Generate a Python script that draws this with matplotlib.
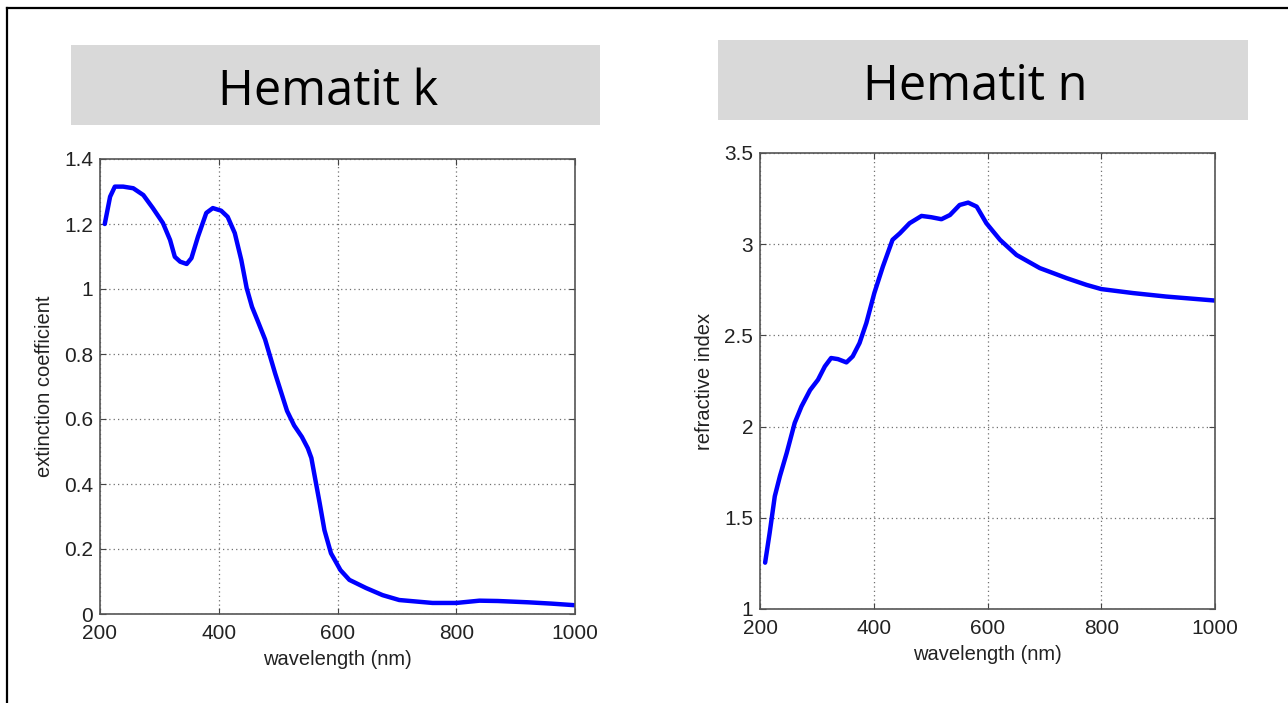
import matplotlib
matplotlib.use("Agg")
import matplotlib.pyplot as plt
from matplotlib.patches import Rectangle
from matplotlib.lines import Line2D

# Extinction coefficient k of hematite
k_wavelength = [208, 217, 225, 239, 256, 273, 289, 306, 318, 326, 335, 346, 354,
                365, 379, 390, 404, 415, 427, 438, 447, 456, 466, 478, 495, 515,
                527, 540, 550, 556, 561, 570, 578, 589, 605, 620, 648, 676, 704,
                760, 800, 839, 870, 921, 960, 1000]
k_values = [1.20, 1.284, 1.315, 1.315, 1.31, 1.289, 1.249, 1.203, 1.151, 1.099,
            1.084, 1.077, 1.095, 1.161, 1.234, 1.249, 1.241, 1.222, 1.172, 1.089,
            1.003, 0.945, 0.90, 0.845, 0.74, 0.625, 0.58, 0.545, 0.51, 0.48,
            0.43, 0.341, 0.258, 0.187, 0.135, 0.105, 0.08, 0.058, 0.043, 0.034,
            0.034, 0.041, 0.04, 0.036, 0.032, 0.027]

# Refractive index n of hematite
n_wavelength = [209, 217, 226, 235, 247, 261, 273, 288, 302, 314, 325, 337, 352,
                363, 375, 387, 401, 416, 433, 446, 463, 484, 501, 519, 534, 551,
                566, 581, 598, 622, 651, 692, 739, 774, 800, 856, 914, 1000]
n_values = [1.254, 1.418, 1.618, 1.728, 1.856, 2.02, 2.111, 2.20, 2.257, 2.33,
            2.376, 2.37, 2.352, 2.385, 2.458, 2.568, 2.732, 2.877, 3.024, 3.06,
            3.115, 3.155, 3.148, 3.137, 3.16, 3.215, 3.228, 3.206, 3.115, 3.024,
            2.941, 2.869, 2.814, 2.777, 2.754, 2.732, 2.713, 2.691]

W, H = 1288, 703
fig = plt.figure(figsize=(W / 100, H / 100), dpi=100)
plt.rcParams['font.family'] = ['Liberation Sans', 'DejaVu Sans']

# slide frame
fig.add_artist(Line2D([7 / W, 7 / W], [0, 1 - 8 / H], color='black', lw=1.6))
fig.add_artist(Line2D([7 / W, 1], [1 - 8 / H, 1 - 8 / H], color='black', lw=1.6))


def header(x0, y0, x1, y1, text, tx, ty):
    fig.add_artist(Rectangle((x0 / W, 1 - y1 / H), (x1 - x0) / W, (y1 - y0) / H,
                             transform=fig.transFigure, facecolor='#d9d9d9',
                             edgecolor='none'))
    fig.text(tx / W, 1 - ty / H, text, ha='center', va='center', fontsize=35,
             family=['Open Sans', 'DejaVu Sans'])


def panel(rect, x, y, ylim, yticks, ylabel):
    left, top, right, bottom = rect
    ax = fig.add_axes([left / W, 1 - bottom / H, (right - left) / W, (bottom - top) / H])
    ax.plot(x, y, color='#0000ff', lw=3.2, solid_capstyle='round',
            solid_joinstyle='round')
    ax.set_xlim(200, 1000)
    ax.set_ylim(*ylim)
    ax.set_xticks([200, 400, 600, 800, 1000])
    ax.set_yticks(yticks)
    ax.set_yticklabels([f'{t:g}' for t in yticks])
    ax.grid(True, color='#707070', linestyle=(0, (1, 2.5)), lw=0.9)
    ax.tick_params(direction='in', top=True, right=True, labelsize=15,
                   length=4, color='#444444', pad=5, labelcolor='#222222')
    ax.tick_params(axis='x', pad=7)
    for s in ax.spines.values():
        s.set_color('#555555')
        s.set_linewidth(1.2)
    ax.set_xlabel('wavelength (nm)', fontsize=14.5, labelpad=5, color='#222222')
    ax.set_ylabel(ylabel, fontsize=14.5, labelpad=7, color='#222222')
    return ax


header(71, 45, 600, 125, 'Hematit k', 328, 92)
header(718, 40, 1248, 120, 'Hematit n', 975, 87)

panel((100, 159, 575, 614), k_wavelength, k_values, (0, 1.4),
      [0, 0.2, 0.4, 0.6, 0.8, 1, 1.2, 1.4], 'extinction coefficient')
panel((760, 153, 1215, 609), n_wavelength, n_values, (1, 3.5),
      [1, 1.5, 2, 2.5, 3, 3.5], 'refractive index')

fig.savefig('out.png', dpi=100)
